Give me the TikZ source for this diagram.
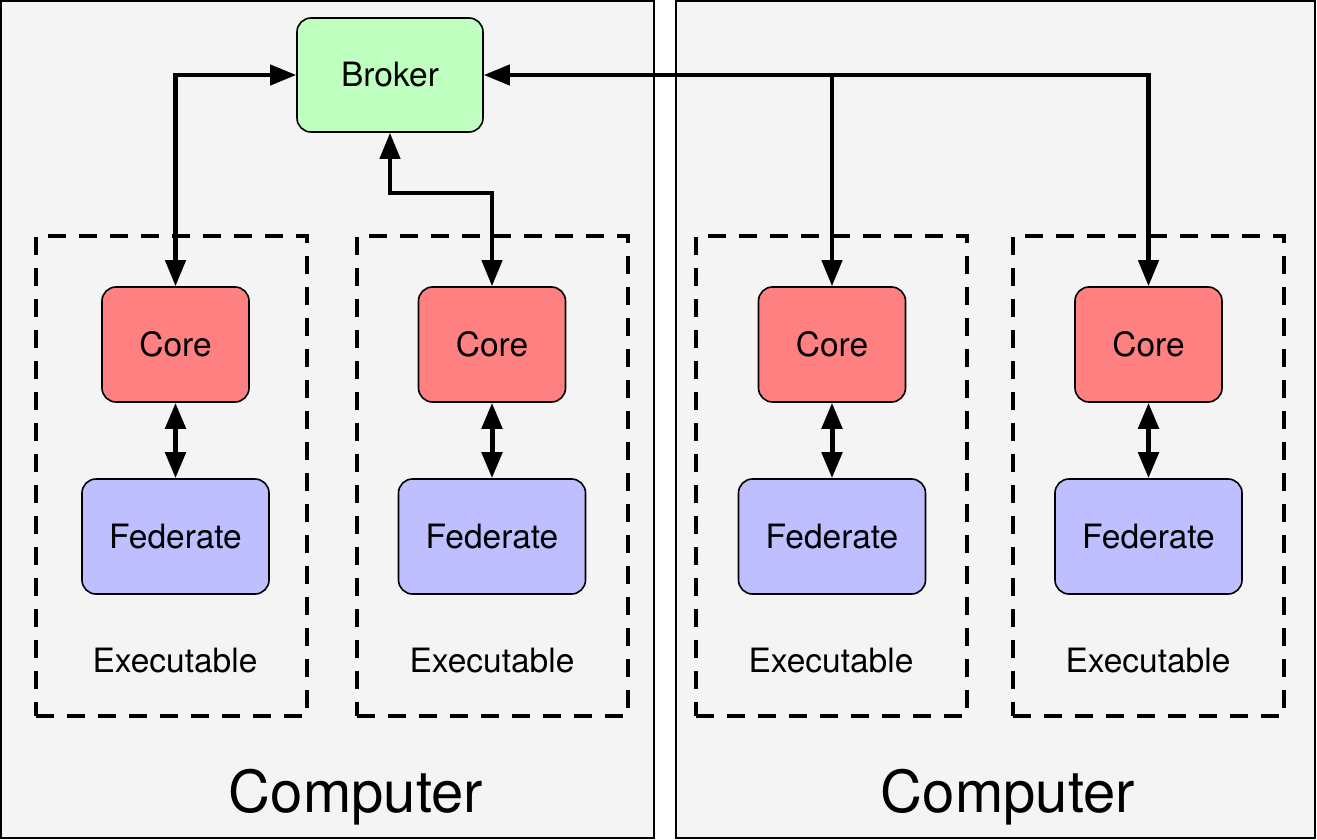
\documentclass[tikz,border=0pt]{standalone}
\usepackage{fontspec}
\setmainfont{TeX Gyre Heros}
\usetikzlibrary{arrows.meta}
\definecolor{bgc}{HTML}{F4F4F4}
\definecolor{corec}{HTML}{FF8080}
\definecolor{fedc}{HTML}{BFBFFF}
\definecolor{brokc}{HTML}{BFFFBF}
\begin{document}
\begin{tikzpicture}[x=1pt,y=-1pt,
  comp/.style={draw,fill=bgc,line width=2pt},
  exbox/.style={draw,line width=4pt,dash pattern=on 18pt off 13pt,minimum width=271pt,minimum height=480pt,inner sep=0pt},
  rbox/.style={draw,line width=1.6pt,rounded corners=14pt,inner sep=0pt,font=\fontsize{33.5}{33.5}\selectfont},
  corebox/.style={rbox,fill=corec,minimum width=147pt,minimum height=115pt},
  fedbox/.style={rbox,fill=fedc,minimum width=187pt,minimum height=115pt},
  brokbox/.style={rbox,fill=brokc,minimum width=186pt,minimum height=114pt},
  exlabel/.style={font=\fontsize{33.5}{33.5}\selectfont,inner sep=0pt,anchor=base},
  complabel/.style={font=\fontsize{58}{58}\selectfont,inner sep=0pt,anchor=base},
  conn/.style={line width=4.2pt},
  shortconn/.style={line width=5pt,{Triangle[length=26pt,width=20pt]}-{Triangle[length=26pt,width=20pt]}}
]
\useasboundingbox (0,0) rectangle (1317,840);
% computers
\draw[comp] (1,1) rectangle (654,838);
\draw[comp] (676,1) rectangle (1315,838);
\node[complabel] (pc1) at (356,812) {Computer};
\node[complabel] (pc2) at (1008,812) {Computer};
% executables
\node[exbox] (e1) at (171.5,476) {};
\node[exbox] (e2) at (492,476) {};
\node[exbox] (e3) at (831,476) {};
\node[exbox] (e4) at (1148,476) {};
\node[exlabel] (x1) at (175,672) {Executable};
\node[exlabel] (x2) at (492,672) {Executable};
\node[exlabel] (x3) at (831,672) {Executable};
\node[exlabel] (x4) at (1148,672) {Executable};
% nodes
\node[brokbox] (b) at (390,75) {Broker};
\node[corebox] (c1) at (175.5,344.5) {Core};
\node[corebox] (c2) at (492,344.5) {Core};
\node[corebox] (c3) at (832,344.5) {Core};
\node[corebox] (c4) at (1148.5,344.5) {Core};
\node[fedbox] (f1) at (175.5,536.5) {Federate};
\node[fedbox] (f2) at (492,536.5) {Federate};
\node[fedbox] (f3) at (832,536.5) {Federate};
\node[fedbox] (f4) at (1148.5,536.5) {Federate};
% connectors
\coordinate (j2) at (390,193);
\draw[conn,{Triangle[length=26pt,width=20pt]}-{Triangle[length=26pt,width=20pt]}] (c1.north) |- (b.west);
\draw[conn,{Triangle[length=26pt,width=20pt]}-{Triangle[length=26pt,width=20pt]}] (b.south) -- (j2) -| (c2.north);
\draw[conn,{Triangle[length=26pt,width=20pt]}-{Triangle[length=26pt,width=20pt]}] (b.east) -| (c4.north);
\draw[conn,-{Triangle[length=26pt,width=20pt]}] (b.east -| c3.north) -- (c3.north);
\draw[shortconn] (c1.south) -- (f1.north);
\draw[shortconn] (c2.south) -- (f2.north);
\draw[shortconn] (c3.south) -- (f3.north);
\draw[shortconn] (c4.south) -- (f4.north);
\end{tikzpicture}
\end{document}
